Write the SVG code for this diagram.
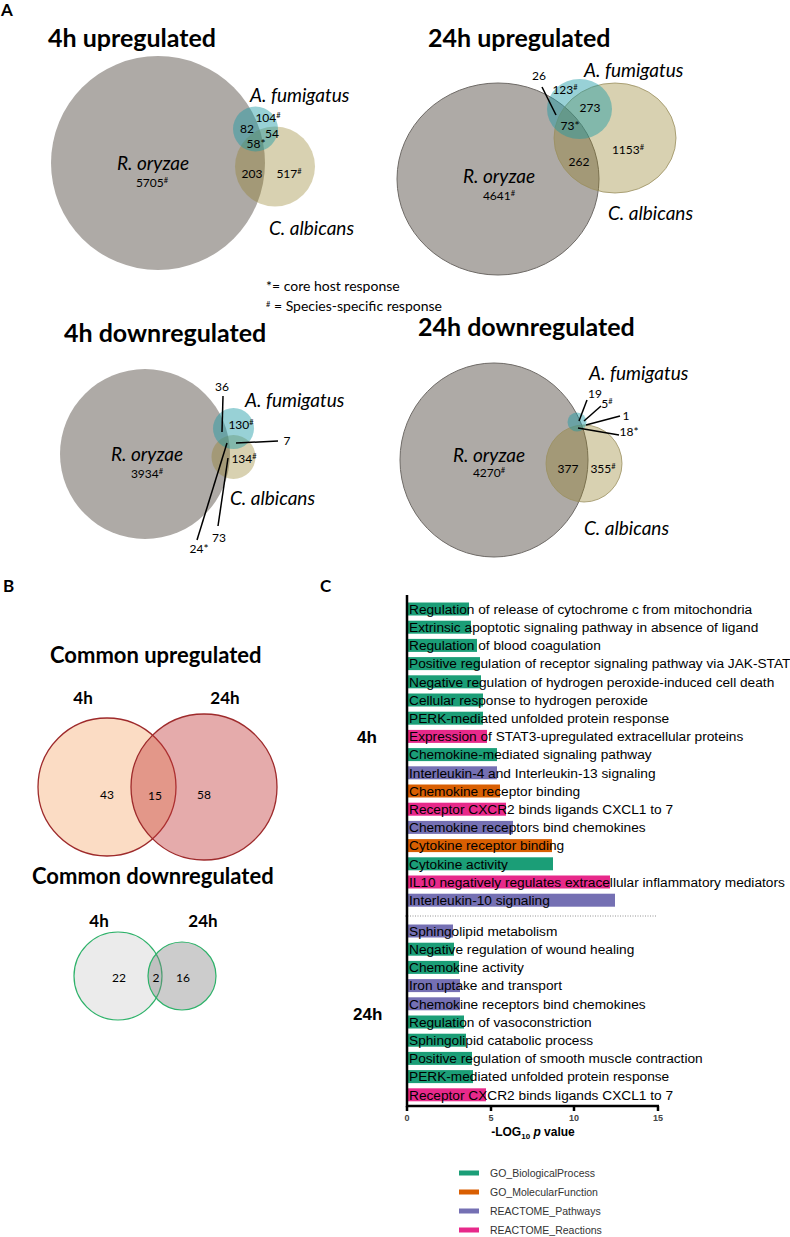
<svg xmlns="http://www.w3.org/2000/svg" width="790" height="1237" viewBox="0 0 790 1237">
<style>
text{font-family:Lato,"Open Sans","Liberation Sans",sans-serif;fill:#000}
.pl{font-weight:700;font-size:17px}
.title{font-weight:700;font-size:25px}
.sub{font-weight:700;font-size:22px}
.hh{font-weight:700;font-size:17px;text-anchor:middle}
.sp{font-style:italic;font-size:19px}
.num{font-size:12px;text-anchor:middle}
.sup{font-size:7.5px}
.leg{font-size:14px}
.gray{fill:#aeaaa6}
.teal{fill:#1a9aa5;fill-opacity:.45}
.tan{fill:#907a20;fill-opacity:.35}
.ol{stroke:#6f6b67;stroke-width:1}
.olt{stroke:#9a8f60;stroke-width:.8}
.ld line{stroke:#000;stroke-width:1.5}
.c text{font-family:"Liberation Sans",Arial,sans-serif}
.lbl{font-size:13.7px}
.bp{fill:#1b9e77}.mf{fill:#d95f02}.rp{fill:#7570b3}.rr{fill:#e7298a}
.ax{stroke:#000;stroke-width:2.5;fill:none}
.tk{font-size:9px;font-weight:700;text-anchor:middle;fill:#444}
.lg{font-size:10.5px;fill:#333}
</style>

<text class="pl" x="1" y="16">A</text>

<g id="venn-4h-up">
<text class="title" x="48" y="47">4h upregulated</text>
<circle class="gray" cx="158" cy="163" r="107"/>
<circle class="tan" cx="275" cy="166.5" r="40"/>
<circle class="teal" cx="255.5" cy="129" r="22.5"/>
<text class="sp" x="250" y="102">A. fumigatus</text>
<text class="sp" x="153" y="170" text-anchor="middle">R. oryzae</text>
<text class="num" x="152" y="187">5705<tspan class="sup" dy="-4">#</tspan></text>
<text class="sp" x="269" y="235">C. albicans</text>
<text class="num" x="268" y="122">104<tspan class="sup" dy="-4">#</tspan></text>
<text class="num" x="247" y="133">82</text>
<text class="num" x="272" y="138">54</text>
<text class="num" x="256" y="148">58*</text>
<text class="num" x="252" y="178">203</text>
<text class="num" x="289" y="178">517<tspan class="sup" dy="-4">#</tspan></text>
</g>

<g id="legend-a">
<text class="leg" x="266" y="291">*= core host response</text>
<text class="leg" x="266" y="311"><tspan class="sup" dy="-4">#</tspan><tspan dy="4"> = Species-specific response</tspan></text>
</g>

<g id="venn-24h-up">
<text class="title" x="428" y="47">24h upregulated</text>
<ellipse class="gray ol" cx="498" cy="179" rx="101" ry="96"/>
<ellipse class="tan olt" cx="615" cy="138" rx="61" ry="55"/>
<ellipse class="teal" cx="579.5" cy="109" rx="32.5" ry="30"/>
<text class="sp" x="584" y="77">A. fumigatus</text>
<text class="num" x="539" y="80">26</text>
<text class="num" x="565" y="94">123<tspan class="sup" dy="-4">#</tspan></text>
<text class="num" x="590" y="112">273</text>
<text class="num" x="570" y="130">73*</text>
<text class="num" x="628" y="154">1153<tspan class="sup" dy="-4">#</tspan></text>
<text class="num" x="579" y="166">262</text>
<text class="sp" x="499" y="183" text-anchor="middle">R. oryzae</text>
<text class="num" x="499" y="200">4641<tspan class="sup" dy="-4">#</tspan></text>
<text class="sp" x="608" y="220">C. albicans</text>
</g>

<g id="venn-4h-down">
<text class="title" x="64" y="342">4h downregulated</text>
<circle class="gray" cx="145" cy="454" r="85"/>
<circle class="tan" cx="233.5" cy="457" r="22"/>
<circle class="teal" cx="233.5" cy="428.5" r="20.5"/>
<text class="sp" x="245" y="407">A. fumigatus</text>
<text class="num" x="222" y="391">36</text>
<text class="num" x="241" y="429">130<tspan class="sup" dy="-4">#</tspan></text>
<text class="num" x="287" y="445">7</text>
<text class="num" x="244" y="463">134<tspan class="sup" dy="-4">#</tspan></text>
<text class="sp" x="147" y="461" text-anchor="middle">R. oryzae</text>
<text class="num" x="147" y="478">3934<tspan class="sup" dy="-4">#</tspan></text>
<text class="sp" x="230" y="505">C. albicans</text>
<text class="num" x="219" y="542">73</text>
<text class="num" x="199" y="553">24*</text>
</g>

<g id="venn-24h-down">
<text class="title" x="418" y="336">24h downregulated</text>
<ellipse class="gray ol" cx="494" cy="460" rx="94" ry="97"/>
<ellipse class="tan olt" cx="584" cy="463.5" rx="38" ry="38.5"/>
<circle class="teal" cx="577" cy="422" r="9.5"/>
<text class="sp" x="589" y="380">A. fumigatus</text>
<text class="num" x="595" y="398">19</text>
<text class="num" x="607" y="408">5<tspan class="sup" dy="-4">#</tspan></text>
<text class="num" x="626" y="420">1</text>
<text class="num" x="629" y="436">18*</text>
<text class="sp" x="489" y="462" text-anchor="middle">R. oryzae</text>
<text class="num" x="489" y="477">4270<tspan class="sup" dy="-4">#</tspan></text>
<text class="num" x="568" y="473">377</text>
<text class="num" x="603" y="473">355<tspan class="sup" dy="-4">#</tspan></text>
<text class="sp" x="584" y="535">C. albicans</text>
</g>

<g id="connectors" class="ld">
<line x1="542" y1="87" x2="556" y2="115"/>
<line x1="223" y1="396" x2="222" y2="432"/>
<line x1="236" y1="443" x2="278" y2="441"/>
<line x1="228" y1="458" x2="218" y2="526"/>
<line x1="227" y1="443" x2="197" y2="540"/>
<line x1="579" y1="421" x2="587" y2="400"/>
<line x1="584" y1="421" x2="601" y2="406"/>
<line x1="586" y1="425" x2="620" y2="416"/>
<line x1="578" y1="428" x2="619" y2="435"/>
</g>

<text class="pl" x="3" y="592">B</text>

<g id="venn-common-up">
<text class="sub" x="50" y="663">Common upregulated</text>
<text class="hh" x="83" y="704">4h</text>
<text class="hh" x="225" y="704">24h</text>
<circle cx="107" cy="787" r="69" fill="#fbdcc4" stroke="#9e2a2b" stroke-width="1.3"/>
<circle cx="204" cy="787" r="73" fill="#c23838" fill-opacity=".42" stroke="#9e2a2b" stroke-width="1.3"/>
<text class="num" x="107" y="799" font-size="14">43</text>
<text class="num" x="155" y="800" font-size="14">15</text>
<text class="num" x="204" y="799" font-size="14">58</text>
</g>

<g id="venn-common-down">
<text class="sub" x="32" y="884">Common downregulated</text>
<text class="hh" x="99" y="927">4h</text>
<text class="hh" x="203" y="927">24h</text>
<circle cx="118" cy="976" r="44" fill="#ebebeb" stroke="#2eb26a" stroke-width="1.2"/>
<circle cx="182" cy="976" r="34" fill="#808080" fill-opacity=".4" stroke="#2eb26a" stroke-width="1.2"/>
<text class="num" x="119" y="982">22</text>
<text class="num" x="156" y="982">2</text>
<text class="num" x="183" y="982">16</text>
</g>

<text class="pl" x="320" y="592">C</text>

<g id="enrichment" class="c">
<text x="357" y="743" font-size="17" font-weight="700">4h</text>
<text x="353" y="1020" font-size="17" font-weight="700">24h</text>
<g id="bars-4h">
<rect class="bp" x="408" y="602.5" width="61" height="13"/>
<rect class="bp" x="408" y="620.7" width="63" height="13"/>
<rect class="bp" x="408" y="638.9" width="69" height="13"/>
<rect class="bp" x="408" y="657.1" width="72" height="13"/>
<rect class="bp" x="408" y="675.3" width="73" height="13"/>
<rect class="bp" x="408" y="693.5" width="75" height="13"/>
<rect class="bp" x="408" y="711.7" width="75" height="13"/>
<rect class="rr" x="408" y="729.9" width="79" height="13"/>
<rect class="bp" x="408" y="748.1" width="89" height="13"/>
<rect class="rp" x="408" y="766.3" width="89" height="13"/>
<rect class="mf" x="408" y="784.5" width="92" height="13"/>
<rect class="rr" x="408" y="802.7" width="98" height="13"/>
<rect class="rp" x="408" y="820.9" width="105" height="13"/>
<rect class="mf" x="408" y="839.1" width="144" height="13"/>
<rect class="bp" x="408" y="857.3" width="145" height="13"/>
<rect class="rr" x="408" y="875.5" width="202" height="13"/>
<rect class="rp" x="408" y="893.7" width="207" height="13"/>
<text class="lbl" x="409" y="613.8">Regulation of release of cytochrome c from mitochondria</text>
<text class="lbl" x="409" y="632">Extrinsic apoptotic signaling pathway in absence of ligand</text>
<text class="lbl" x="409" y="650.2">Regulation of blood coagulation</text>
<text class="lbl" x="409" y="668.4">Positive regulation of receptor signaling pathway via JAK-STAT</text>
<text class="lbl" x="409" y="686.6">Negative regulation of hydrogen peroxide-induced cell death</text>
<text class="lbl" x="409" y="704.8">Cellular response to hydrogen peroxide</text>
<text class="lbl" x="409" y="723">PERK-mediated unfolded protein response</text>
<text class="lbl" x="409" y="741.2">Expression of STAT3-upregulated extracellular proteins</text>
<text class="lbl" x="409" y="759.4">Chemokine-mediated signaling pathway</text>
<text class="lbl" x="409" y="777.6">Interleukin-4 and Interleukin-13 signaling</text>
<text class="lbl" x="409" y="795.8">Chemokine receptor binding</text>
<text class="lbl" x="409" y="814">Receptor CXCR2 binds ligands CXCL1 to 7</text>
<text class="lbl" x="409" y="832.2">Chemokine receptors bind chemokines</text>
<text class="lbl" x="409" y="850.4">Cytokine receptor binding</text>
<text class="lbl" x="409" y="868.6">Cytokine activity</text>
<text class="lbl" x="409" y="886.8">IL10 negatively regulates extracellular inflammatory mediators</text>
<text class="lbl" x="409" y="905">Interleukin-10 signaling</text>
</g>
<line x1="405" y1="916" x2="656" y2="916" stroke="#777" stroke-width="0.8" stroke-dasharray="1,1.5"/>
<g id="bars-24h">
<rect class="rp" x="408" y="924.5" width="45" height="13"/>
<rect class="bp" x="408" y="942.7" width="46" height="13"/>
<rect class="bp" x="408" y="960.9" width="51" height="13"/>
<rect class="rp" x="408" y="979.1" width="52" height="13"/>
<rect class="rp" x="408" y="997.3" width="52" height="13"/>
<rect class="bp" x="408" y="1015.5" width="56" height="13"/>
<rect class="bp" x="408" y="1033.7" width="58" height="13"/>
<rect class="bp" x="408" y="1051.9" width="64" height="13"/>
<rect class="bp" x="408" y="1070.1" width="65" height="13"/>
<rect class="rr" x="408" y="1088.3" width="78" height="13"/>
<text class="lbl" x="409" y="935.8">Sphingolipid metabolism</text>
<text class="lbl" x="409" y="954">Negative regulation of wound healing</text>
<text class="lbl" x="409" y="972.2">Chemokine activity</text>
<text class="lbl" x="409" y="990.4">Iron uptake and transport</text>
<text class="lbl" x="409" y="1008.6">Chemokine receptors bind chemokines</text>
<text class="lbl" x="409" y="1026.8">Regulation of vasoconstriction</text>
<text class="lbl" x="409" y="1045">Sphingolipid catabolic process</text>
<text class="lbl" x="409" y="1063.2">Positive regulation of smooth muscle contraction</text>
<text class="lbl" x="409" y="1081.4">PERK-mediated unfolded protein response</text>
<text class="lbl" x="409" y="1099.6">Receptor CXCR2 binds ligands CXCL1 to 7</text>
</g>
<g id="axes">
<path class="ax" d="M407 595V1106H659"/>
<path class="ax" d="M491 1106v5M574 1106v5M658 1106v5M407 1106v5"/>
<text class="tk" x="407" y="1121">0</text>
<text class="tk" x="491" y="1121">5</text>
<text class="tk" x="574" y="1121">10</text>
<text class="tk" x="658" y="1121">15</text>
<text x="533" y="1136" font-size="12" font-weight="700" text-anchor="middle">-LOG<tspan font-size="8" dy="3">10</tspan><tspan dy="-3" font-style="italic"> p</tspan> value</text>
</g>
<g id="legend-c">
<rect class="bp" x="459" y="1170.5" width="20" height="5"/>
<rect class="mf" x="459" y="1189.5" width="20" height="5"/>
<rect class="rp" x="459" y="1208.5" width="20" height="5"/>
<rect class="rr" x="459" y="1227.5" width="20" height="5"/>
<text class="lg" x="490" y="1177">GO_BiologicalProcess</text>
<text class="lg" x="490" y="1196">GO_MolecularFunction</text>
<text class="lg" x="490" y="1215">REACTOME_Pathways</text>
<text class="lg" x="490" y="1234">REACTOME_Reactions</text>
</g>
</g>
</svg>
